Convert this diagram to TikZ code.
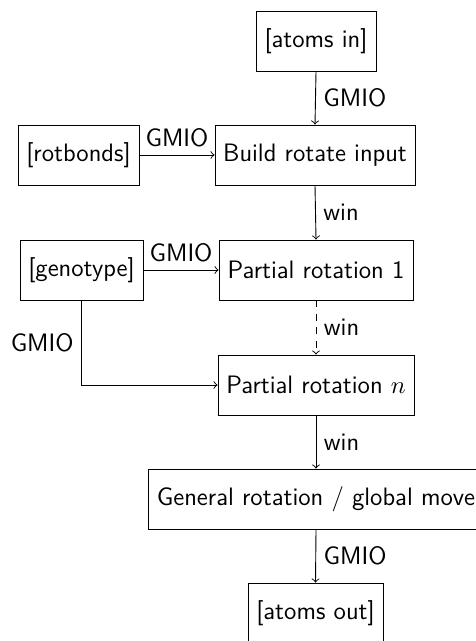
\documentclass[tikz,border=0pt]{standalone}
\usetikzlibrary{positioning}
\begin{document}
\begin{tikzpicture}[x=0.4444pt,y=-0.4444pt,
  font=\sffamily\fontsize{11.2}{13}\selectfont,
  box/.style={draw, minimum height=26.67pt, inner sep=0.3333em},
  conn/.style={->},
  lbl/.style={inner sep=0.3333em}]
\useasboundingbox (0,0) rectangle (475,641);
\node[box, minimum width=53.3pt] (atomsin) at (316,41) {[atoms in]};
\node[box, minimum width=88.9pt] (build) at (315,155) {Build rotate input};
\node[box, minimum width=53.8pt] (rotbonds) at (78.5,155) {[rotbonds]};
\node[box, minimum width=54.7pt] (genotype) at (81.5,270) {[genotype]};
\node[box, minimum width=86.2pt] (p1) at (316,270) {Partial rotation 1};
\node[box, minimum width=87.1pt] (pn) at (316,385) {Partial rotation $n$};
\node[box, minimum width=149pt] (general) at (316,499) {General rotation / global move};
\node[box, minimum width=60pt] (atomsout) at (315.5,613) {[atoms out]};

\draw[conn] (atomsin.south) -- node[lbl, right]{GMIO} (build.north);
\draw[conn] (rotbonds) -- node[lbl, above]{GMIO} (build);
\draw[conn] (build.south) -- node[lbl, right]{win} (p1.north);
\draw[conn] (genotype) -- node[lbl, above]{GMIO} (p1);
\draw[conn, dashed] (p1.south) -- node[lbl, right]{win} (pn.north);
\draw[conn] (genotype.south) |- node[lbl, left, pos=0.25]{GMIO} (pn.west);
\draw[conn] (pn.south) -- node[lbl, right]{win} (general.north);
\draw[conn] (general.south) -- node[lbl, right]{GMIO} (atomsout.north);
\end{tikzpicture}
\end{document}
